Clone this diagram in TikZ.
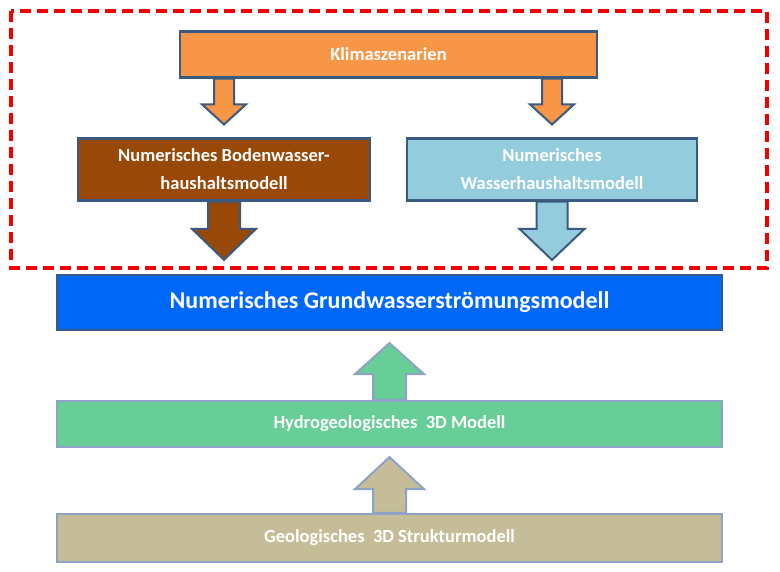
\documentclass[tikz,border=0pt]{standalone}
\usepackage{fontspec}
\setmainfont{Carlito}
\usetikzlibrary{calc}
\definecolor{klimaC}{HTML}{F79646}
\definecolor{bodenC}{HTML}{984807}
\definecolor{wasserC}{HTML}{93CDDD}
\definecolor{grundC}{HTML}{0068F8}
\definecolor{hydroC}{HTML}{66CE96}
\definecolor{geoC}{HTML}{C4BD97}
\definecolor{darkB}{HTML}{3B5A82}
\definecolor{lightB}{HTML}{8EA2C6}
\definecolor{redD}{HTML}{F50000}
\newcommand{\blockarr}[6]{% start, tip, shaft half, head half, head length (signed), style
  \filldraw[#6] ($(#1)+(-#3,0)$) -- ($(#2)+(-#3,-#5)$) -- ($(#2)+(-#4,-#5)$) -- (#2)
    -- ($(#2)+(#4,-#5)$) -- ($(#2)+(#3,-#5)$) -- ($(#1)+(#3,0)$) -- cycle;}
\begin{document}
\begin{tikzpicture}[x=1pt,y=-1pt,
  box/.style={draw=darkB, line width=2.2pt, rectangle, inner sep=0pt, text=white,
    font=\bfseries\fontsize{18.5}{28}\selectfont, align=center},
  lbox/.style={box, draw=lightB},
  darr/.style={draw=darkB, line width=2pt, line join=miter},
  larr/.style={draw=lightB, line width=2pt, line join=miter}]
\useasboundingbox (0,0) rectangle (780,571);
\fill[white] (0,0) rectangle (780,571);
% frame
\draw[redD, line width=3.2pt, dash pattern=on 11pt off 6pt] (11,11) rectangle (767,268);
% boxes
\node[box, fill=klimaC, minimum width=417pt, minimum height=46pt] (klima) at (388.5,54.5) {Klimaszenarien};
\node[box, fill=bodenC, minimum width=292pt, minimum height=62pt] (boden) at (224,169.5) {Numerisches Bodenwasser-\\haushaltsmodell};
\node[box, fill=wasserC, minimum width=290pt, minimum height=62pt] (wasser) at (552,169.5) {Numerisches\\Wasserhaushaltsmodell};
\node[box, fill=grundC, minimum width=665pt, minimum height=55pt, font=\bfseries\fontsize{24}{26}\selectfont] (grund) at (389.5,302.5) {Numerisches Grundwasserströmungsmodell};
\node[lbox, fill=hydroC, minimum width=665pt, minimum height=46pt] (hydro) at (389.5,424) {Hydrogeologisches~~3D Modell};
\node[lbox, fill=geoC, minimum width=665pt, minimum height=48pt] (geo) at (389.5,538) {Geologisches~~3D Strukturmodell};
% arrow coordinates
\coordinate (a1s) at (klima.south -| boden.north);
\coordinate (a1e) at ($(boden.north)+(0,-13)$);
\coordinate (a2s) at (klima.south -| wasser.north);
\coordinate (a2e) at ($(wasser.north)+(0,-13)$);
\coordinate (a3s) at (boden.south);
\coordinate (a3e) at ($(grund.north -| boden.south)+(0,-14)$);
\coordinate (a4s) at (wasser.south);
\coordinate (a4e) at ($(grund.north -| wasser.south)+(0,-14)$);
\coordinate (a5s) at (hydro.north);
\coordinate (a5e) at ($(grund.south)+(0,12)$);
\coordinate (a6s) at (geo.north);
\coordinate (a6e) at ($(hydro.south)+(0,9)$);
\blockarr{a1s}{a1e}{10}{22}{20}{darr, fill=klimaC}
\blockarr{a2s}{a2e}{10}{22}{20}{darr, fill=klimaC}
\blockarr{a3s}{a3e}{16}{32}{31}{darr, fill=bodenC}
\blockarr{a4s}{a4e}{15.5}{32.5}{31}{darr, fill=wasserC}
\blockarr{a5s}{a5e}{16.5}{34.5}{-31}{larr, fill=hydroC}
\blockarr{a6s}{a6e}{16.5}{34.5}{-32}{larr, fill=geoC}
\end{tikzpicture}
\end{document}
